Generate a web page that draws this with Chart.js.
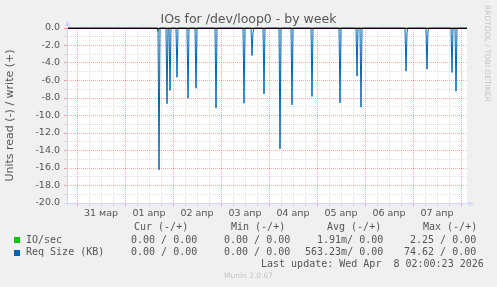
<!DOCTYPE html>
<html>
<head>
<meta charset="utf-8">
<script src="https://cdn.jsdelivr.net/npm/chart.js@4"></script>
<style>
  html, body { margin: 0; padding: 0; background: #f0f0f0; }
  #wrap { position: relative; width: 497px; height: 287px; background: #f0f0f0; overflow: hidden; }
  #c { position: absolute; left: 0; top: 0; }
  .t { position: absolute; white-space: pre; color: #555; }
  .mono { font-family: 'DejaVu Sans Mono', monospace; font-size: 10px; line-height: 12px; }
  .sw { position: absolute; width: 6px; height: 6px; }
</style>
</head>
<body>
<div id="wrap">
  <canvas id="c" width="497" height="287"></canvas>
  <div class="t" id="title" style="left:0;width:497px;top:11px;text-align:center;font-family:'DejaVu Sans';font-size:12.5px;line-height:15px;">IOs for /dev/loop0 - by week</div>
  <div class="t" style="left:483px;top:5px;writing-mode:vertical-rl;font-family:'DejaVu Sans';font-size:7.5px;line-height:9px;color:#c4c4c4;">RRDTOOL / TOBI OETIKER</div>

  <div class="t mono" style="left:134px;top:221px;">Cur (-/+)</div>
  <div class="t mono" style="left:231px;top:221px;">Min (-/+)</div>
  <div class="t mono" style="left:327px;top:221px;">Avg (-/+)</div>
  <div class="t mono" style="left:423px;top:221px;">Max (-/+)</div>

  <div class="sw" style="left:14px;top:237px;background:#00cc00;"></div>
  <div class="t mono" style="left:26px;top:234px;">IO/sec</div>
  <div class="t mono" style="left:131px;top:234px;">0.00 / 0.00</div>
  <div class="t mono" style="left:224px;top:234px;">0.00 / 0.00</div>
  <div class="t mono" style="left:317px;top:234px;">1.91m/ 0.00</div>
  <div class="t mono" style="left:410px;top:234px;">2.25 / 0.00</div>

  <div class="sw" style="left:14px;top:250px;background:#0066b3;"></div>
  <div class="t mono" style="left:26px;top:246px;">Req Size (KB)</div>
  <div class="t mono" style="left:131px;top:246px;">0.00 / 0.00</div>
  <div class="t mono" style="left:224px;top:246px;">0.00 / 0.00</div>
  <div class="t mono" style="left:305px;top:246px;">563.23m/ 0.00</div>
  <div class="t mono" style="left:404px;top:246px;">74.62 / 0.00</div>

  <div class="t mono" style="left:261px;top:258px;">Last update: Wed Apr  8 02:00:23 2026</div>
  <div class="t" style="left:0;width:497px;top:271px;text-align:center;font-family:'DejaVu Sans';font-size:7.5px;line-height:10px;color:#c4c4c4;">Munin 2.0.67</div>
</div>
<script>
// ---- data (hours relative to 31 мар 00:00) ----
const dayLabels = ['31 мар', '01 апр', '02 апр', '03 апр', '04 апр', '05 апр', '06 апр', '07 апр'];
const reqTimes  = [41, 45, 46.5, 50, 55.5, 59.5, 69.5, 83.5, 87.5, 88, 93.5, 101.5, 107.5, 117.5, 131.5, 140, 142, 164.5, 165, 175, 175.5, 187.5, 189.5];
const reqValues = [-16.2, -8.66, -7.14, -5.62, -8.02, -6.88, -9.16, -8.6, -3.14, -0.5, -7.52, -13.8, -8.78, -7.83, -8.55, -5.5, -9.05, -4.93, -0.5, -4.7, -0.3, -5.09, -7.22];
const ioTimes   = [40.5];
const ioValues  = [-0.4];
const yTickValues = [0, -1, -2, -3, -4, -5, -6, -7, -8, -9, -10, -11, -12, -13, -14, -15, -16, -17, -18, -19, -20];
const xTickValues = [0, 6, 12, 18, 24, 30, 36, 42, 48, 54, 60, 66, 72, 78, 84, 90, 96, 102, 108, 114, 120, 126, 132, 138, 144, 150, 156, 162, 168, 174, 180, 186, 192];

const startHour = -5, endHour = 195, stepHours = 0.5;
function buildSeries(times, values) {
  const pts = [];
  for (let h = startHour; h <= endHour; h += stepHours) {
    const i = times.indexOf(h);
    pts.push({ x: h, y: i >= 0 ? values[i] : 0 });
  }
  return pts;
}

const MAJOR = 'rgba(255,0,0,0.36)';
const MINOR = 'rgba(150,150,150,0.3)';
const AXIS = '#CFD6F8';

const decor = {
  id: 'decor',
  beforeDraw(chart) {
    const { ctx, chartArea: a } = chart;
    ctx.save();
    ctx.fillStyle = '#ffffff';
    ctx.fillRect(a.left, a.top, a.right - a.left, a.bottom - a.top);
    ctx.restore();
  },
  afterDatasetsDraw(chart) {
    const { ctx, chartArea: a, scales: { y } } = chart;
    const y0 = Math.round(y.getPixelForValue(0)) + 0.5;
    ctx.save();
    ctx.strokeStyle = '#000000';
    ctx.lineWidth = 1;
    ctx.beginPath();
    ctx.moveTo(a.left, y0);
    ctx.lineTo(a.right, y0);
    ctx.stroke();
    // axes
    const yb = Math.round(y.getPixelForValue(-20)) + 0.5;
    const xl = a.left + 0.5;
    ctx.strokeStyle = AXIS;
    ctx.fillStyle = AXIS;
    ctx.beginPath();
    ctx.moveTo(xl, yb + 3);
    ctx.lineTo(xl, a.top - 2);
    ctx.moveTo(a.left - 3, yb);
    ctx.lineTo(a.right + 2, yb);
    ctx.stroke();
    ctx.beginPath();
    ctx.moveTo(xl, a.top - 7.5);
    ctx.lineTo(xl - 2.5, a.top - 2);
    ctx.lineTo(xl + 2.5, a.top - 2);
    ctx.closePath();
    ctx.fill();
    ctx.beginPath();
    ctx.moveTo(a.right + 7, yb);
    ctx.lineTo(a.right + 1.5, yb - 2.5);
    ctx.lineTo(a.right + 1.5, yb + 2.5);
    ctx.closePath();
    ctx.fill();
    ctx.restore();
  }
};

new Chart(document.getElementById('c'), {
  type: 'line',
  data: {
    datasets: [
      { label: 'Req Size (KB)', data: buildSeries(reqTimes, reqValues), borderColor: '#0066b3', borderWidth: 1, pointRadius: 0, tension: 0, clip: 3 },
      { label: 'IO/sec', data: buildSeries(ioTimes, ioValues), borderColor: '#00cc00', borderWidth: 1, pointRadius: 0, tension: 0, clip: 3 }
    ]
  },
  options: {
    responsive: false,
    animation: false,
    devicePixelRatio: 1,
    layout: { padding: { left: 0, top: 28, right: 30, bottom: 64 } },
    plugins: { legend: { display: false }, tooltip: { enabled: false }, title: { display: false } },
    scales: {
      x: {
        type: 'linear',
        min: startHour,
        max: endHour,
        afterBuildTicks(scale) { scale.ticks = xTickValues.map(v => ({ value: v })); },
        afterFit(scale) { scale.height = 20; },
        grid: {
          color: c => (c.tick && c.tick.value % 24 === 0) ? MAJOR : MINOR,
          tickLength: 3,
          lineWidth: 1
        },
        border: { display: false, dash: [1, 1] },
        ticks: {
          autoSkip: false,
          maxRotation: 0,
          padding: 2,
          color: '#555',
          font: { family: 'DejaVu Sans', size: 9.5 },
          callback: v => (v % 24 === 12) ? dayLabels[(v - 12) / 24] : ''
        }
      },
      y: {
        type: 'linear',
        min: -20,
        max: 0,
        afterBuildTicks(scale) { scale.ticks = yTickValues.map(v => ({ value: v })); },
        afterFit(scale) { scale.width = 67; },
        grid: {
          color: c => (c.tick && c.tick.value % 2 === 0) ? MAJOR : MINOR,
          tickLength: 3,
          lineWidth: 1
        },
        border: { display: false, dash: [1, 1] },
        ticks: {
          autoSkip: false,
          padding: 4,
          color: '#555',
          font: { family: 'DejaVu Sans', size: 9.5 },
          callback: v => (v % 2 === 0) ? v.toFixed(1) : ''
        },
        title: {
          display: true,
          text: 'Units read (-) / write (+)',
          color: '#555',
          font: { family: 'DejaVu Sans', size: 11 },
          padding: { top: 4, bottom: 0 }
        }
      }
    }
  },
  plugins: [decor]
});
</script>
</body>
</html>
